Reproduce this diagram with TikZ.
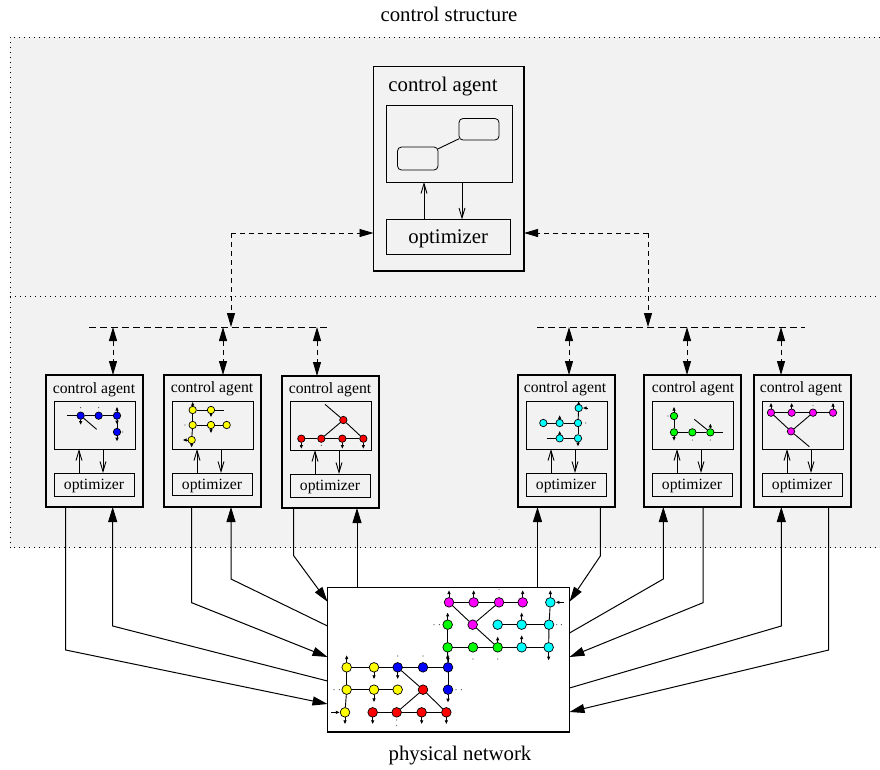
\documentclass[tikz,border=0pt]{standalone}
\usepackage{fontspec}
\setmainfont{Liberation Serif}
\usetikzlibrary{arrows.meta,calc}
\definecolor{pcyan}{RGB}{0,255,255}
\definecolor{pmagenta}{RGB}{255,0,255}
\definecolor{pgreen}{RGB}{0,255,0}
\definecolor{pblue}{RGB}{0,0,255}
\definecolor{pyellow}{RGB}{255,255,0}
\definecolor{pred}{RGB}{255,0,0}
\definecolor{pback}{RGB}{242,242,242}
\newcommand{\bx}[7]{\pgfmathsetmacro\bw{#5-#3}\pgfmathsetmacro\bh{#6-#4}\pgfmathsetmacro\bcx{(#3+#5)/2}\pgfmathsetmacro\bcy{(#4+#6)/2}%
  \node[#1,minimum width=\bw pt,minimum height=\bh pt] (#2) at (\bcx,\bcy) {#7};}
\newcommand{\stb}[3]{\draw[stubarrow] (#1) -- ++(#2,#3);}
\newcommand{\dotm}[2]{\fill[black!70] (#1,#2) circle (0.6pt);}
\newcommand{\edges}[1]{\foreach \ea/\eb in {#1} \draw[netline] (\ea) -- (\eb);}
\newcommand{\opttext}[1]{\raisebox{-#1pt}[\height][\depth]{optimizer}}
\tikzset{
  x=1pt,y=-1pt,
  outerbox/.style={draw,line width=1.7pt,inner sep=0pt,outer sep=0pt},
  innerbox/.style={draw,line width=.9pt,inner sep=0pt,outer sep=0pt},
  roundbox/.style={draw,line width=.8pt,rounded corners=4pt,inner sep=0pt,outer sep=0pt},
  bigtext/.style={font=\fontsize{20.8}{24}\selectfont},
  smalltext/.style={font=\fontsize{15.7}{18}\selectfont},
  conn/.style={line width=1pt},
  connarrow/.style={conn,-{Stealth[length=15pt,width=9pt,inset=0pt]}},
  connback/.style={conn,{Stealth[length=15pt,width=9pt,inset=0pt]}-},
  dashlink/.style={line width=.9pt,dash pattern=on 5pt off 4pt},
  dasharrow/.style={dashlink,-{Stealth[length=14pt,width=8pt,inset=0pt]}},
  dashboth/.style={dashlink,{Stealth[length=14pt,width=8pt,inset=0pt]}-{Stealth[length=14pt,width=8pt,inset=0pt]}},
  buslink/.style={line width=.9pt,dash pattern=on 7pt off 4pt},
  openarrow/.style={line width=.9pt,-{Straight Barb[length=10pt,width=6pt]}},
  netline/.style={line width=.9pt},
  stubarrow/.style={line width=.8pt,-{Latex[length=4pt,width=3.6pt]}},
  mininode/.style={circle,draw,line width=.7pt,inner sep=0pt,minimum size=7.4pt},
  netnode/.style={circle,draw,line width=.7pt,inner sep=0pt,minimum size=9.6pt},
}
\begin{document}
\begin{tikzpicture}
\useasboundingbox (0,0) rectangle (880,769);
% backgrounds
\fill[pback] (10,37) rectangle (880,547.5);
\draw[line width=.8pt,dash pattern=on 1pt off 4pt] (880,37) -- (10,37) -- (10,547.5) -- (880,547.5);
\draw[line width=.8pt,dash pattern=on 1pt off 4pt] (10,296) -- (880,296);
\node[bigtext] (ctitle) at (449,14) {control structure};
\node[bigtext] (ptitle) at (460,755.5) {physical network};
% top agent
\bx{outerbox}{top}{373.5}{66.5}{524}{271}{}
\bx{innerbox}{topin}{386.5}{105.5}{512}{182}{}
\bx{innerbox,bigtext}{topopt}{386.5}{219.5}{510}{254}{\opttext{2.5}}
\node[bigtext,anchor=center] (toptxt) at (443,87) {control agent};
\bx{roundbox}{ra}{397.5}{147}{438}{170}{}
\bx{roundbox}{rb}{459}{118.5}{499}{140}{}
\draw[line width=.9pt] (ra) -- (rb);
\coordinate (tu) at (424,200); \coordinate (td) at (462,200);
\draw[openarrow] (topopt.north -| tu) -- (topin.south -| tu);
\draw[openarrow] (topin.south -| td) -- (topopt.north -| td);
% small agents
\bx{outerbox}{a1}{46}{375}{143}{507}{}
\bx{innerbox}{i1}{54}{401}{135}{449}{}
\bx{innerbox,smalltext}{o1}{54}{473}{134}{496}{\opttext{1.5}}
\node[smalltext] (t1) at (94,390) {control agent};
\bx{outerbox}{a2}{164}{375}{261}{507}{}
\bx{innerbox}{i2}{172}{401}{253}{449}{}
\bx{innerbox,smalltext}{o2}{172}{473}{252}{495}{\opttext{1.5}}
\node[smalltext] (t2) at (212,389) {control agent};
\bx{outerbox}{a3}{282}{376}{379}{508}{}
\bx{innerbox}{i3}{290}{401}{371}{450}{}
\bx{innerbox,smalltext}{o3}{290}{474}{370}{497}{\opttext{1.5}}
\node[smalltext] (t3) at (330,390) {control agent};
\bx{outerbox}{a4}{518}{375}{615}{507}{}
\bx{innerbox}{i4}{526}{401}{607}{449}{}
\bx{innerbox,smalltext}{o4}{526}{473}{606}{496}{\opttext{1.5}}
\node[smalltext] (t4) at (565,389) {control agent};
\bx{outerbox}{a5}{644}{375}{741}{507}{}
\bx{innerbox}{i5}{652}{401}{733}{449}{}
\bx{innerbox,smalltext}{o5}{652}{473}{732}{496}{\opttext{1.5}}
\node[smalltext] (t5) at (693,389) {control agent};
\bx{outerbox}{a6}{754}{375}{851}{507}{}
\bx{innerbox}{i6}{762}{401}{843}{449}{}
\bx{innerbox,smalltext}{o6}{762}{473}{842}{496}{\opttext{1.5}}
\node[smalltext] (t6) at (801,389) {control agent};
\foreach \n/\xu/\xd in {1/79/103,2/197/221,3/315/339,4/551/575,5/677/701,6/787/811}{
  \coordinate (u\n) at (\xu,460); \coordinate (d\n) at (\xd,460);
  \draw[openarrow] (o\n.north -| u\n) -- (i\n.south -| u\n);
  \draw[openarrow] (i\n.south -| d\n) -- (o\n.north -| d\n);
}
% buses
\coordinate (busLa) at (89,327); \coordinate (busLb) at (330,327);
\coordinate (busRa) at (537,327); \coordinate (busRb) at (805,327);
\draw[buslink] (busLa) -- (busLb);
\draw[buslink] (busRa) -- (busRb);
\coordinate (cornerL) at (231,233); \coordinate (cornerR) at (648,233);
\draw[dasharrow] (cornerL) -- (top.west |- cornerL);
\draw[dasharrow] (cornerL) -- (cornerL |- busLa);
\draw[dasharrow] (cornerR) -- (top.east |- cornerR);
\draw[dasharrow] (cornerR) -- (cornerR |- busRa);
\foreach \n/\xx in {1/113,2/223,3/317,4/569,5/687,6/781}{
  \coordinate (bu\n) at (\xx,327);
  \draw[dashboth] (bu\n) -- (a\n.north -| bu\n);
}
% physical network box
\bx{outerbox,fill=white}{net}{327.5}{587.5}{569.5}{732}{}
% connectors
\foreach \k/\xx/\yb/\ye in {a1/65.7/650/704,a2/191.7/602.7/657,a3/293.7/555.7/601.7}{
  \coordinate (b) at (\xx,\yb); \coordinate (e) at (327.5,\ye);
  \draw[connarrow] (\k.south -| b) -- (b) -- (e);
}
\foreach \k/\xx/\yb/\ye in {a1/112.7/626/681,a2/231/579/626}{
  \coordinate (b) at (\xx,\yb); \coordinate (e) at (327.5,\ye);
  \draw[connback] (\k.south -| b) -- (b) -- (e);
}
\foreach \k/\xx/\yb/\ye in {a4/600.3/556/601.7,a5/703/602.7/657,a6/828.7/650/712}{
  \coordinate (b) at (\xx,\yb); \coordinate (e) at (569.5,\ye);
  \draw[connarrow] (\k.south -| b) -- (b) -- (e);
}
\foreach \k/\xx/\yb/\ye in {a5/663.3/579/633,a6/781.3/626/688}{
  \coordinate (b) at (\xx,\yb); \coordinate (e) at (569.5,\ye);
  \draw[connback] (\k.south -| b) -- (b) -- (e);
}
\coordinate (v3) at (357,560); \coordinate (v4) at (537.5,560);
\draw[connback] (a3.south -| v3) -- (net.north -| v3);
\draw[connback] (a4.south -| v4) -- (net.north -| v4);
% ---- graph in agent 1
\begin{scope}[shift={(40,370)},x=.33333pt,y=-.33333pt]
  \foreach \n/\a/\b in {1/122/137,2/176/137,3/231/137,4/231/186}
    \node[mininode,fill=pblue] (ba\n) at (\a,\b) {};
  \coordinate (ba5) at (82,137); \coordinate (ba6) at (170,178);
  \edges{ba5/ba1,ba1/ba2,ba2/ba3,ba3/ba4,ba1/ba6}
  \stb{ba1}{0}{28} \stb{ba3}{0}{-27} \stb{ba3}{0}{27} \stb{ba4}{0}{29}
  \dotm{122}{113} \dotm{176}{113} \dotm{248}{186}
\end{scope}
% ---- graph in agent 2
\begin{scope}[shift={(40,370)},x=.33333pt,y=-.33333pt]
  \foreach \n/\a/\b in {1/458/120,2/513/120,3/458/165,4/513/165,5/560/165,6/455/210}
    \node[mininode,fill=pyellow] (ya\n) at (\a,\b) {};
  \coordinate (ya7) at (552,120);
  \edges{ya1/ya2,ya2/ya7,ya1/ya3,ya3/ya6,ya3/ya4,ya4/ya5}
  \stb{ya1}{0}{-25} \stb{ya2}{0}{22} \stb{ya4}{0}{25} \stb{ya6}{-27}{0} \stb{ya6}{0}{23}
  \dotm{435}{165}
\end{scope}
% ---- graph in agent 3
\begin{scope}[shift={(230,370)},x=.33333pt,y=-.33333pt]
  \foreach \n/\a/\b in {1/340/150,2/214/206,3/274/206,4/337/206,5/400/206}
    \node[mininode,fill=pred] (ra\n) at (\a,\b) {};
  \coordinate (ra6) at (285,103);
  \edges{ra6/ra1,ra1/ra5,ra1/ra3,ra2/ra3,ra3/ra4,ra4/ra5}
  \stb{ra2}{0}{31} \stb{ra4}{0}{31} \stb{ra5}{0}{31}
  \dotm{274}{226}
\end{scope}
% ---- graph in agent 4
\begin{scope}[shift={(510,370)},x=.33333pt,y=-.33333pt]
  \foreach \n/\a/\b in {1/206/114,2/100/159,3/149/159,4/204/159,5/149/205,6/204/205}
    \node[mininode,fill=pcyan] (ca\n) at (\a,\b) {};
  \coordinate (ca7) at (110,205);
  \edges{ca1/ca4,ca4/ca6,ca2/ca3,ca3/ca4,ca7/ca5,ca5/ca6}
  \stb{ca1}{0}{-21} \stb{ca3}{0}{-24} \stb{ca5}{0}{-23} \stb{ca6}{0}{25}
  \coordinate (ca8) at (233,114);
  \draw[stubarrow] (ca8) -- (ca1);
  \dotm{227}{159}
\end{scope}
% ---- graph in agent 5
\begin{scope}[shift={(510,370)},x=.33333pt,y=-.33333pt]
  \foreach \n/\a/\b in {1/492/138,2/492/187,3/547/187,4/601/187}
    \node[mininode,fill=pgreen] (ga\n) at (\a,\b) {};
  \coordinate (ga5) at (640,187); \coordinate (ga6) at (553,148);
  \edges{ga1/ga2,ga2/ga3,ga3/ga4,ga4/ga5,ga6/ga4}
  \stb{ga1}{0}{-28} \stb{ga2}{0}{26} \stb{ga4}{0}{-27}
  \dotm{474}{138} \dotm{547}{210} \dotm{601}{210}
\end{scope}
% ---- graph in agent 6
\begin{scope}[shift={(740,370)},x=.33333pt,y=-.33333pt]
  \foreach \n/\a/\b in {1/93/128,2/155/128,3/219/128,4/279/128,5/153/184}
    \node[mininode,fill=pmagenta] (ma\n) at (\a,\b) {};
  \coordinate (ma6) at (208,230);
  \edges{ma1/ma2,ma2/ma3,ma3/ma4,ma1/ma5,ma5/ma6,ma3/ma5}
  \stb{ma1}{0}{-30} \stb{ma2}{0}{-30} \stb{ma4}{0}{-30}
  \dotm{219}{106}
\end{scope}
% ---- physical network graph
\begin{scope}[shift={(320,580)},x=.33333pt,y=-.33333pt]
  \foreach \n/\a/\b in {1/387/67,2/461/67,3/537/67,4/608/67,5/458/134}
    \node[netnode,fill=pmagenta] (m\n) at (\a,\b) {};
  \foreach \n/\a/\b in {1/691/67,2/533/134,3/605/134,4/687/134,5/605/202,6/686/202}
    \node[netnode,fill=pcyan] (c\n) at (\a,\b) {};
  \foreach \n/\a/\b in {1/383/134,2/383/202,3/459/202,4/533/202}
    \node[netnode,fill=pgreen] (g\n) at (\a,\b) {};
  \foreach \n/\a/\b in {1/233/262,2/309/262,3/384/262,4/384/329}
    \node[netnode,fill=pblue] (b\n) at (\a,\b) {};
  \foreach \n/\a/\b in {1/80/262,2/162/262,3/80/329,4/162/329,5/233/329,6/75/397}
    \node[netnode,fill=pyellow] (y\n) at (\a,\b) {};
  \foreach \n/\a/\b in {1/309/329,2/158/397,3/230/397,4/305/397,5/379/397}
    \node[netnode,fill=pred] (r\n) at (\a,\b) {};
  \edges{m1/m2,m2/m3,m3/m4,m1/m5,m5/g4,m3/m5,c1/c4,c4/c6,c2/c3,c3/c4,g2/g3,g3/g4,g4/c5,c5/c6,g1/g2,g2/b3,b1/b2,b2/b3,y1/y2,y2/b1,y1/y3,y3/y6,y3/y4,y4/y5,b1/r1,r1/r5,r1/r3,r2/r3,r3/r4,r4/r5,b3/b4}
  \stb{m1}{0}{-37} \stb{m2}{0}{-37} \stb{m4}{0}{-37}
  \stb{c1}{0}{-37} \stb{c3}{0}{-37} \stb{c5}{0}{-37} \stb{c6}{0}{40}
  \stb{g1}{0}{-37} \stb{g2}{0}{40} \stb{g4}{0}{-33}
  \stb{b1}{0}{36} \stb{b3}{0}{-37} \stb{b4}{0}{39}
  \stb{y1}{0}{-37} \stb{y2}{0}{36} \stb{y4}{0}{38} \stb{y6}{0}{36}
  \stb{r2}{0}{36} \stb{r4}{0}{36} \stb{r5}{0}{36}
  \coordinate (c7) at (733,67); \coordinate (y7) at (33,397);
  \draw[stubarrow] (c7) -- (c1);
  \draw[stubarrow] (y7) -- (y6);
  \dotm{537}{28} \dotm{710}{134} \dotm{724}{134} \dotm{459}{237} \dotm{533}{237}
  \dotm{342}{134} \dotm{358}{134} \dotm{233}{228} \dotm{309}{228} \dotm{408}{329}
  \dotm{424}{329} \dotm{42}{329} \dotm{58}{329} \dotm{230}{420} \dotm{230}{437}
\end{scope}
\end{tikzpicture}
\end{document}
